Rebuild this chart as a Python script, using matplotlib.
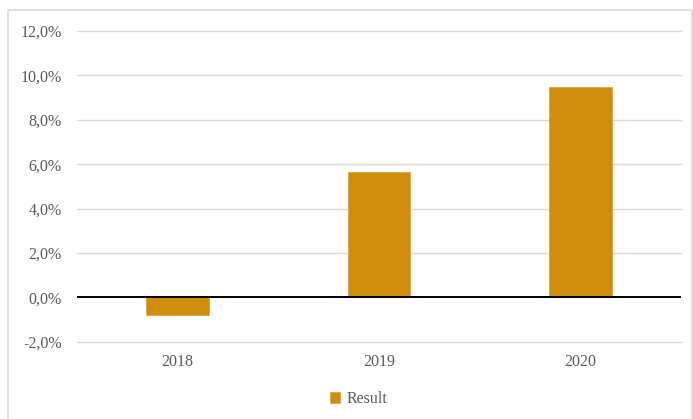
import matplotlib.pyplot as plt
from matplotlib.patches import Rectangle
from matplotlib.ticker import FuncFormatter

plt.rcParams['font.family'] = 'Liberation Serif'

# data
years = ['2018', '2019', '2020']
result = [-0.80, 5.67, 9.50]   # percent
yticks = [-2, 0, 2, 4, 6, 8, 10, 12]

bar_color = '#D08C0C'
grid_color = '#D9D9D9'
text_color = '#595959'

fig = plt.figure(figsize=(6.93, 4.19), dpi=100)
ax = fig.add_axes([0.111, 0.184, 0.872, 0.742])

# outer chart frame like the spreadsheet export
fig.patches.append(Rectangle((8/693, -0.02), 684/693, 1 - 10/419 + 0.02,
                             transform=fig.transFigure, fill=False,
                             edgecolor=grid_color, linewidth=1.2))

x = range(len(years))
ax.bar(x, result, width=0.31, color=bar_color, edgecolor='#E3A43A',
       linewidth=0.6, label='Result', zorder=3)

ax.set_xlim(-0.5, 2.5)
ax.set_ylim(-2, 12)
ax.set_yticks(yticks)
ax.yaxis.set_major_formatter(FuncFormatter(lambda v, p: ('%.1f%%' % v).replace('.', ',')))
ax.set_xticks(list(x))
ax.set_xticklabels(years)

for t in yticks:
    if t != 0:
        ax.axhline(t, color=grid_color, linewidth=1.0, zorder=1, clip_on=False)
ax.axhline(0, color='black', linewidth=1.4, zorder=4)

for s in ax.spines.values():
    s.set_visible(False)
ax.tick_params(axis='both', length=0, labelsize=11.5, colors=text_color)
ax.tick_params(axis='y', pad=11)
ax.tick_params(axis='x', pad=9)

fig.legend(loc='center', bbox_to_anchor=(0.517, 0.048), frameon=False,
           fontsize=11.5, handlelength=0.65, handleheight=0.65,
           handletextpad=0.4, labelcolor=text_color)

fig.savefig('out.png', dpi=100)
